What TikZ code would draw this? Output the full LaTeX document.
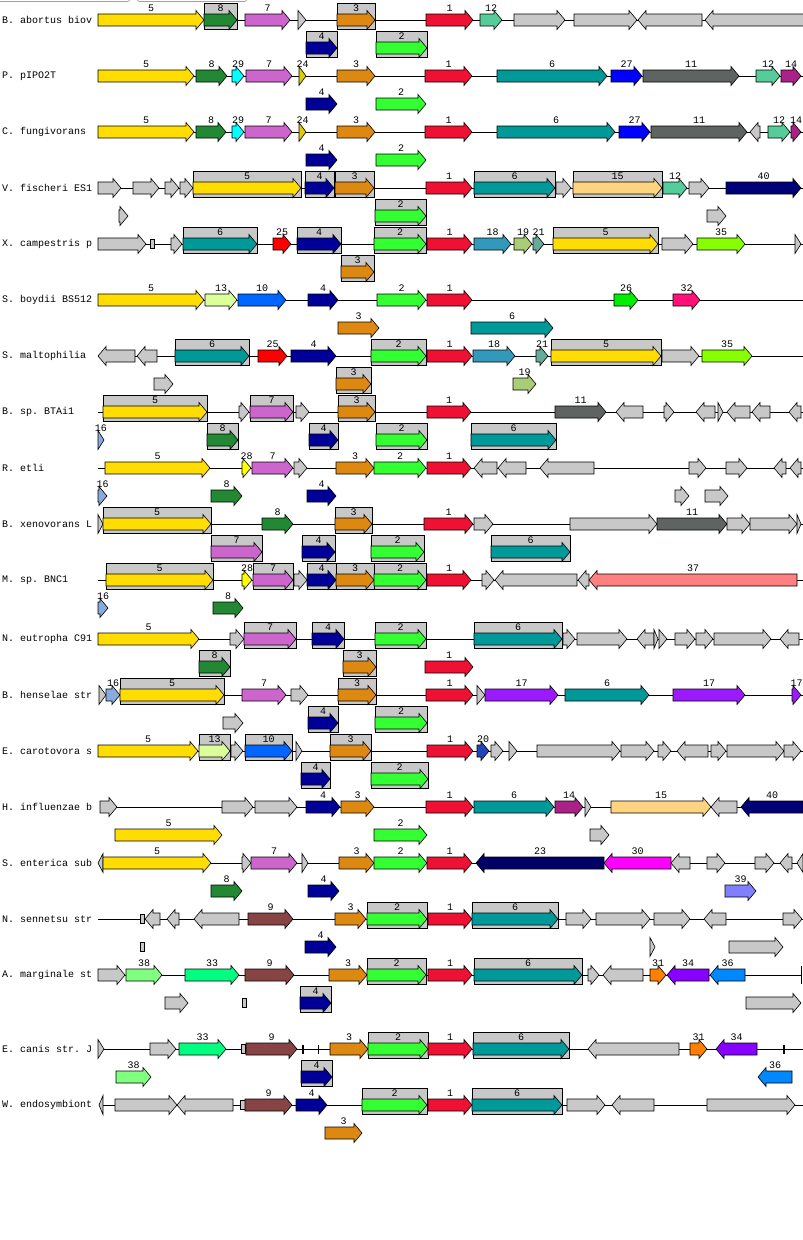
\documentclass[tikz,border=0pt]{standalone}
\usepackage{fontspec}
\setmonofont{Liberation Mono}
\usepackage{tikz}
\usetikzlibrary{calc}

% gene colours
\definecolor{cg}{HTML}{C8C8C8}
\definecolor{c1}{HTML}{EE1133}
\definecolor{c2}{HTML}{33FF33}
\definecolor{c3}{HTML}{DD8811}
\definecolor{c4}{HTML}{000099}
\definecolor{c5}{HTML}{FFDD00}
\definecolor{c6}{HTML}{009999}
\definecolor{c7}{HTML}{CC66CC}
\definecolor{c8}{HTML}{228833}
\definecolor{c9}{HTML}{884444}
\definecolor{c10}{HTML}{0066FF}
\definecolor{c11}{HTML}{5F6361}
\definecolor{c12}{HTML}{55CC99}
\definecolor{c13}{HTML}{DDFF99}
\definecolor{c14}{HTML}{AA2288}
\definecolor{c15}{HTML}{FFD480}
\definecolor{c16}{HTML}{88AADD}
\definecolor{c17}{HTML}{9B1AFF}
\definecolor{c18}{HTML}{3399BB}
\definecolor{c19}{HTML}{AACC77}
\definecolor{c20}{HTML}{2244BB}
\definecolor{c21}{HTML}{66AA99}
\definecolor{c23}{HTML}{000066}
\definecolor{c24}{HTML}{DDCC00}
\definecolor{c25}{HTML}{FF0000}
\definecolor{c26}{HTML}{00EE00}
\definecolor{c27}{HTML}{0000FF}
\definecolor{c28}{HTML}{FFFF00}
\definecolor{c29}{HTML}{00FFFF}
\definecolor{c30}{HTML}{FF00FF}
\definecolor{c31}{HTML}{FF8000}
\definecolor{c32}{HTML}{FF1177}
\definecolor{c33}{HTML}{00FF80}
\definecolor{c34}{HTML}{8800FF}
\definecolor{c35}{HTML}{88FF00}
\definecolor{c36}{HTML}{0088FF}
\definecolor{c37}{HTML}{FF8080}
\definecolor{c38}{HTML}{80FF80}
\definecolor{c39}{HTML}{8080FF}
\definecolor{c40}{HTML}{000077}

\newcounter{gid}
\newcounter{rid}
% organism row: y, name, start, end of backbone
\newcommand{\org}[4]{%
  \stepcounter{rid}%
  \node[orglabel] (org\therid) at (2,#1) {#2};
  \coordinate (bs\therid) at (#3,#1);
  \coordinate (be\therid) at (#4,#1);
  \draw[backbone] (bs\therid) -- (be\therid);}
% gene label
\newcommand{\glab}[4]{%
  \if\relax\detokenize{#4}\relax\else
  \node[glabel] (gl\thegid) at ({(#1+#2)/2},#3-12) {#4};\fi}
% right pointing gene: x1, x2, y, colour, label
\newcommand{\gn}[5]{%
  \stepcounter{gid}%
  \pgfmathsetmacro{\hx}{max(#1,#2-8)}%
  \draw[gene,fill=#4] (#1,#3-6) -- (\hx,#3-6) -- (\hx,#3-9.5) -- (#2,#3)
    -- (\hx,#3+9.5) -- (\hx,#3+6) -- (#1,#3+6) -- cycle;
  \glab{#1}{#2}{#3}{#5}}
% left pointing gene
\newcommand{\gl}[5]{%
  \stepcounter{gid}%
  \pgfmathsetmacro{\hx}{min(#2,#1+8)}%
  \draw[gene,fill=#4] (#2,#3-6) -- (\hx,#3-6) -- (\hx,#3-9.5) -- (#1,#3)
    -- (\hx,#3+9.5) -- (\hx,#3+6) -- (#2,#3+6) -- cycle;
  \glab{#1}{#2}{#3}{#5}}
% boxed gene
\newcommand{\bgn}[5]{%
  \draw[genebox] (#1,#3-17) rectangle (#2,#3+9.5);
  \gn{#1}{#2}{#3}{#4}{#5}}
% tiny gene
\newcommand{\tr}[3]{\draw[gene,fill=cg] (#1,#3-4.5) rectangle (#2,#3+4.5);}
% tick on backbone
\newcommand{\tk}[3]{\draw[line width=#3] (#1,#2-4.5) -- (#1,#2+4.5);}

\begin{document}
\begin{tikzpicture}
  [x=1pt,y=-1pt,
   gene/.style={draw=black,line width=0.6pt},
   genebox/.style={draw=black,fill=cg,line width=0.6pt},
   glabel/.style={font=\ttfamily\fontsize{10}{12}\selectfont,inner sep=0pt},
   orglabel/.style={font=\ttfamily\fontsize{10}{12}\selectfont,inner sep=0pt,anchor=west},
   backbone/.style={line width=0.8pt},
   topline/.style={draw=cg!80!black,line width=0.6pt}]
  \useasboundingbox[fill=white] (0,0) rectangle (803,1240);

  % remains of the tabs at the top
  \draw[topline] (0,1.5) -- (128,1.5) to[out=0,in=90] (131,-1);
  \draw[topline] (136,-1) to[out=90,in=180] (139,1.5) -- (245,1.5) to[out=0,in=90] (248,-1);

  % B. abortus
  \org{20}{B. abortus biov}{98}{803}
  \gn{98}{204}{20}{c5}{5}
  \bgn{204}{237}{20}{c8}{8}
  \gn{245}{290}{20}{c7}{7}
  \gn{298}{306}{20}{cg}{}
  \bgn{337}{375}{20}{c3}{3}
  \gn{426}{473}{20}{c1}{1}
  \gn{480}{502}{20}{c12}{12}
  \gn{514}{565}{20}{cg}{}
  \gn{574}{637}{20}{cg}{}
  \gl{638}{702}{20}{cg}{}
  \gl{705}{804}{20}{cg}{}
  \bgn{306}{337}{48}{c4}{4}
  \bgn{376}{427}{48}{c2}{2}

  % P. pIPO2T
  \org{76}{P. pIPO2T}{98}{803}
  \gn{98}{194}{76}{c5}{5}
  \gn{196}{227}{76}{c8}{8}
  \gn{232}{244}{76}{c29}{29}
  \gn{246}{292}{76}{c7}{7}
  \gn{299}{306}{76}{c24}{24}
  \gn{337}{375}{76}{c3}{3}
  \gn{425}{472}{76}{c1}{1}
  \gn{497}{607}{76}{c6}{6}
  \gn{611}{642}{76}{c27}{27}
  \gn{643}{739}{76}{c11}{11}
  \gn{756}{780}{76}{c12}{12}
  \gn{781}{801}{76}{c14}{14}
  \gn{306}{337}{104}{c4}{4}
  \gn{376}{426}{104}{c2}{2}

  % C. fungivorans
  \org{132}{C. fungivorans}{98}{803}
  \gn{98}{194}{132}{c5}{5}
  \gn{196}{226}{132}{c8}{8}
  \gn{232}{244}{132}{c29}{29}
  \gn{245}{292}{132}{c7}{7}
  \gn{299}{306}{132}{c24}{24}
  \gn{337}{375}{132}{c3}{3}
  \gn{425}{472}{132}{c1}{1}
  \gn{497}{615}{132}{c6}{6}
  \gn{619}{650}{132}{c27}{27}
  \gn{651}{747}{132}{c11}{11}
  \gl{750}{760}{132}{cg}{}
  \gn{768}{790}{132}{c12}{12}
  \gn{791}{801}{132}{c14}{14}
  \gn{306}{337}{160}{c4}{4}
  \gn{376}{426}{160}{c2}{2}

  % V. fischeri
  \org{188}{V. fischeri ES1}{98}{803}
  \gn{98}{121}{188}{cg}{}
  \gn{133}{159}{188}{cg}{}
  \gn{165}{179}{188}{cg}{}
  \gn{180}{193}{188}{cg}{}
  \bgn{193}{301}{188}{c5}{5}
  \bgn{305}{334}{188}{c4}{4}
  \bgn{335}{374}{188}{c3}{3}
  \gn{426}{472}{188}{c1}{1}
  \bgn{474}{555}{188}{c6}{6}
  \gn{556}{571}{188}{cg}{}
  \bgn{573}{662}{188}{c15}{15}
  \gn{663}{687}{188}{c12}{12}
  \gn{689}{709}{188}{cg}{}
  \gn{726}{801}{188}{c40}{40}
  \gn{119}{128}{216}{cg}{}
  \bgn{375}{426}{216}{c2}{2}
  \gn{707}{726}{216}{cg}{}

  % X. campestris
  \org{244}{X. campestris p}{98}{803}
  \gn{98}{146}{244}{cg}{}
  \tr{150}{154}{244}
  \gn{171}{182}{244}{cg}{}
  \bgn{183}{257}{244}{c6}{6}
  \gn{273}{291}{244}{c25}{25}
  \bgn{297}{341}{244}{c4}{4}
  \bgn{374}{426}{244}{c2}{2}
  \gn{427}{472}{244}{c1}{1}
  \gn{474}{511}{244}{c18}{18}
  \gn{514}{532}{244}{c19}{19}
  \gn{533}{544}{244}{c21}{21}
  \bgn{553}{658}{244}{c5}{5}
  \gn{662}{693}{244}{cg}{}
  \gn{697}{745}{244}{c35}{35}
  \gn{795}{801}{244}{cg}{}
  \bgn{341}{374}{272}{c3}{3}

  % S. boydii
  \org{300}{S. boydii BS512}{98}{803}
  \gn{98}{204}{300}{c5}{5}
  \gn{205}{237}{300}{c13}{13}
  \gn{238}{286}{300}{c10}{10}
  \gn{308}{338}{300}{c4}{4}
  \gn{377}{426}{300}{c2}{2}
  \gn{427}{472}{300}{c1}{1}
  \gn{614}{638}{300}{c26}{26}
  \gn{673}{700}{300}{c32}{32}
  \gn{338}{379}{328}{c3}{3}
  \gn{471}{553}{328}{c6}{6}

  % S. maltophilia
  \org{356}{S. maltophilia}{98}{803}
  \gl{98}{135}{356}{cg}{}
  \gl{137}{157}{356}{cg}{}
  \bgn{175}{249}{356}{c6}{6}
  \gn{258}{287}{356}{c25}{25}
  \gn{291}{336}{356}{c4}{4}
  \bgn{371}{426}{356}{c2}{2}
  \gn{427}{472}{356}{c1}{1}
  \gn{473}{515}{356}{c18}{18}
  \gn{536}{548}{356}{c21}{21}
  \bgn{551}{661}{356}{c5}{5}
  \gn{662}{699}{356}{cg}{}
  \gn{702}{752}{356}{c35}{35}
  \gn{154}{173}{384}{cg}{}
  \bgn{336}{371}{384}{c3}{3}
  \gn{513}{536}{384}{c19}{19}

  % B. sp. BTAi1
  \org{412}{B. sp. BTAi1}{98}{803}
  \bgn{103}{207}{412}{c5}{5}
  \gn{239}{249}{412}{cg}{}
  \bgn{250}{293}{412}{c7}{7}
  \gn{296}{309}{412}{cg}{}
  \bgn{338}{375}{412}{c3}{3}
  \gn{427}{471}{412}{c1}{1}
  \gn{555}{606}{412}{c11}{11}
  \gl{616}{643}{412}{cg}{}
  \gn{664}{674}{412}{cg}{}
  \gl{696}{715}{412}{cg}{}
  \gn{718}{723}{412}{cg}{}
  \gl{727}{750}{412}{cg}{}
  \gl{752}{770}{412}{cg}{}
  \gl{789}{801}{412}{cg}{}
  \gn{98}{104}{440}{c16}{16}
  \bgn{207}{238}{440}{c8}{8}
  \bgn{309}{338}{440}{c4}{4}
  \bgn{376}{427}{440}{c2}{2}
  \bgn{471}{556}{440}{c6}{6}

  % R. etli
  \org{468}{R. etli}{98}{803}
  \gn{105}{210}{468}{c5}{5}
  \gn{242}{251}{468}{c28}{28}
  \gn{252}{293}{468}{c7}{7}
  \gn{294}{307}{468}{cg}{}
  \gn{336}{374}{468}{c3}{3}
  \gn{374}{426}{468}{c2}{2}
  \gn{427}{471}{468}{c1}{1}
  \gl{474}{497}{468}{cg}{}
  \gl{498}{526}{468}{cg}{}
  \gl{540}{594}{468}{cg}{}
  \gn{689}{706}{468}{cg}{}
  \gn{726}{747}{468}{cg}{}
  \gl{774}{786}{468}{cg}{}
  \gl{790}{801}{468}{cg}{}
  \gn{98}{107}{496}{c16}{16}
  \gn{211}{242}{496}{c8}{8}
  \gn{307}{336}{496}{c4}{4}
  \gn{675}{689}{496}{cg}{}
  \gn{705}{728}{496}{cg}{}

  % B. xenovorans
  \org{524}{B. xenovorans L}{98}{803}
  \gn{98}{103}{524}{cg}{}
  \bgn{103}{211}{524}{c5}{5}
  \gn{262}{293}{524}{c8}{8}
  \bgn{335}{372}{524}{c3}{3}
  \gn{424}{473}{524}{c1}{1}
  \gn{474}{493}{524}{cg}{}
  \gn{570}{657}{524}{cg}{}
  \gn{657}{727}{524}{c11}{11}
  \gn{727}{750}{524}{cg}{}
  \gn{750}{797}{524}{cg}{}
  \gn{797}{801}{524}{cg}{}
  \bgn{211}{262}{552}{c7}{7}
  \bgn{302}{335}{552}{c4}{4}
  \bgn{371}{424}{552}{c2}{2}
  \bgn{491}{570}{552}{c6}{6}

  % M. sp. BNC1
  \org{580}{M. sp. BNC1}{98}{803}
  \bgn{106}{213}{580}{c5}{5}
  \gn{242}{252}{580}{c28}{28}
  \bgn{253}{293}{580}{c7}{7}
  \gn{294}{307}{580}{cg}{}
  \bgn{307}{336}{580}{c4}{4}
  \bgn{336}{374}{580}{c3}{3}
  \bgn{374}{426}{580}{c2}{2}
  \gn{427}{471}{580}{c1}{1}
  \gn{482}{494}{580}{cg}{}
  \gl{495}{577}{580}{cg}{}
  \gl{578}{589}{580}{cg}{}
  \gl{589}{797}{580}{c37}{37}
  \gn{98}{108}{608}{c16}{16}
  \gn{213}{243}{608}{c8}{8}

  % N. eutropha
  \org{639}{N. eutropha C91}{98}{803}
  \gn{98}{199}{639}{c5}{5}
  \gn{230}{244}{639}{cg}{}
  \bgn{244}{296}{639}{c7}{7}
  \bgn{312}{344}{639}{c4}{4}
  \bgn{375}{426}{639}{c2}{2}
  \bgn{474}{562}{639}{c6}{6}
  \gn{563}{575}{639}{cg}{}
  \gn{577}{627}{639}{cg}{}
  \gl{637}{654}{639}{cg}{}
  \gn{654}{658}{639}{cg}{}
  \gn{659}{667}{639}{cg}{}
  \gn{675}{695}{639}{cg}{}
  \gn{696}{713}{639}{cg}{}
  \gn{714}{771}{639}{cg}{}
  \gl{780}{799}{639}{cg}{}
  \bgn{199}{230}{667}{c8}{8}
  \bgn{343}{376}{667}{c3}{3}
  \gn{425}{473}{667}{c1}{1}

  % B. henselae
  \org{695}{B. henselae str}{99}{803}
  \gn{99}{106}{695}{cg}{}
  \gn{106}{120}{695}{c16}{16}
  \bgn{120}{224}{695}{c5}{5}
  \gn{242}{286}{695}{c7}{7}
  \gn{291}{308}{695}{cg}{}
  \bgn{338}{376}{695}{c3}{3}
  \gn{426}{473}{695}{c1}{1}
  \gn{477}{485}{695}{cg}{}
  \gn{485}{558}{695}{c17}{17}
  \gn{565}{649}{695}{c6}{6}
  \gn{673}{745}{695}{c17}{17}
  \gn{792}{801}{695}{c17}{17}
  \gn{223}{243}{723}{cg}{}
  \bgn{308}{338}{723}{c4}{4}
  \bgn{375}{427}{723}{c2}{2}

  % E. carotovora
  \org{751}{E. carotovora s}{98}{803}
  \gn{98}{198}{751}{c5}{5}
  \bgn{199}{230}{751}{c13}{13}
  \gn{231}{243}{751}{cg}{}
  \bgn{245}{292}{751}{c10}{10}
  \gn{296}{302}{751}{cg}{}
  \bgn{330}{371}{751}{c3}{3}
  \gn{427}{473}{751}{c1}{1}
  \gn{477}{489}{751}{c20}{20}
  \gn{491}{503}{751}{cg}{}
  \gn{509}{517}{751}{cg}{}
  \gn{537}{620}{751}{cg}{}
  \gn{621}{654}{751}{cg}{}
  \gn{658}{671}{751}{cg}{}
  \gl{677}{708}{751}{cg}{}
  \gn{711}{726}{751}{cg}{}
  \gn{727}{784}{751}{cg}{}
  \gn{784}{801}{751}{cg}{}
  \bgn{301}{330}{779}{c4}{4}
  \bgn{371}{428}{779}{c2}{2}

  % H. influenzae
  \org{807}{H. influenzae b}{100}{803}
  \gn{100}{117}{807}{cg}{}
  \gn{222}{253}{807}{cg}{}
  \gn{255}{297}{807}{cg}{}
  \gn{306}{340}{807}{c4}{4}
  \gn{341}{374}{807}{c3}{3}
  \gn{426}{473}{807}{c1}{1}
  \gn{474}{554}{807}{c6}{6}
  \gn{555}{583}{807}{c14}{14}
  \gn{585}{591}{807}{cg}{}
  \gn{611}{711}{807}{c15}{15}
  \gl{711}{737}{807}{cg}{}
  \gl{741}{803}{807}{c40}{40}
  \gn{115}{222}{835}{c5}{5}
  \gn{374}{427}{835}{c2}{2}
  \gn{590}{609}{835}{cg}{}

  % S. enterica
  \org{863}{S. enterica sub}{98}{803}
  \gl{98}{103}{863}{cg}{}
  \gn{103}{211}{863}{c5}{5}
  \gn{242}{251}{863}{cg}{}
  \gn{251}{297}{863}{c7}{7}
  \gn{302}{308}{863}{cg}{}
  \gn{339}{374}{863}{c3}{3}
  \gn{374}{427}{863}{c2}{2}
  \gn{427}{472}{863}{c1}{1}
  \gl{476}{604}{863}{c23}{23}
  \gl{604}{671}{863}{c30}{30}
  \gl{671}{690}{863}{cg}{}
  \gn{707}{725}{863}{cg}{}
  \gn{755}{774}{863}{cg}{}
  \gl{780}{792}{863}{cg}{}
  \gl{797}{803}{863}{cg}{}
  \gn{211}{242}{891}{c8}{8}
  \gn{308}{339}{891}{c4}{4}
  \gn{725}{756}{891}{c39}{39}

  % N. sennetsu
  \org{919}{N. sennetsu str}{98}{803}
  \tr{140}{144}{919}
  \gl{145}{160}{919}{cg}{}
  \gl{167}{179}{919}{cg}{}
  \gl{194}{239}{919}{cg}{}
  \gn{248}{293}{919}{c9}{9}
  \gn{335}{366}{919}{c3}{3}
  \bgn{367}{427}{919}{c2}{2}
  \gn{428}{472}{919}{c1}{1}
  \bgn{472}{558}{919}{c6}{6}
  \gn{566}{591}{919}{cg}{}
  \gn{596}{650}{919}{cg}{}
  \gn{654}{690}{919}{cg}{}
  \gl{704}{726}{919}{cg}{}
  \gn{783}{802}{919}{cg}{}
  \tr{140}{144}{947}
  \gn{305}{336}{947}{c4}{4}
  \gn{650}{655}{947}{cg}{}
  \gn{729}{783}{947}{cg}{}

  % A. marginale
  \org{975}{A. marginale st}{98}{801}
  \tk{801}{975}{0.8pt}
  \draw[backbone] (801,966) -- (801,984);
  \gn{98}{125}{975}{cg}{}
  \gn{126}{162}{975}{c38}{38}
  \gn{185}{239}{975}{c33}{33}
  \gn{245}{294}{975}{c9}{9}
  \gn{329}{367}{975}{c3}{3}
  \bgn{367}{426}{975}{c2}{2}
  \gn{428}{472}{975}{c1}{1}
  \bgn{474}{582}{975}{c6}{6}
  \gn{588}{599}{975}{cg}{}
  \gl{603}{643}{975}{cg}{}
  \gn{650}{666}{975}{c31}{31}
  \gl{667}{709}{975}{c34}{34}
  \gl{710}{745}{975}{c36}{36}
  \gn{165}{188}{1003}{cg}{}
  \tr{242}{246}{1003}
  \bgn{300}{331}{1003}{c4}{4}
  \gn{746}{801}{1003}{cg}{}

  % E. canis
  \org{1049}{E. canis str. J}{98}{803}
  \gn{98}{104}{1049}{cg}{}
  \gn{150}{176}{1049}{cg}{}
  \gn{179}{226}{1049}{c33}{33}
  \tr{241}{245}{1049}
  \gn{246}{297}{1049}{c9}{9}
  \tk{303}{1049}{1.6pt}
  \tk{318}{1049}{0.8pt}
  \gn{330}{368}{1049}{c3}{3}
  \bgn{368}{428}{1049}{c2}{2}
  \gn{428}{472}{1049}{c1}{1}
  \bgn{473}{569}{1049}{c6}{6}
  \gl{588}{679}{1049}{cg}{}
  \gn{690}{707}{1049}{c31}{31}
  \gl{716}{757}{1049}{c34}{34}
  \tk{784}{1049}{1.4pt}
  \gn{116}{151}{1077}{c38}{38}
  \bgn{301}{332}{1077}{c4}{4}
  \gl{758}{792}{1077}{c36}{36}

  % W. endosymbiont
  \org{1105}{W. endosymbiont}{99}{803}
  \gl{99}{103}{1105}{cg}{}
  \gn{115}{177}{1105}{cg}{}
  \gl{177}{233}{1105}{cg}{}
  \tr{240}{245}{1105}
  \gn{245}{292}{1105}{c9}{9}
  \gn{296}{327}{1105}{c4}{4}
  \bgn{362}{427}{1105}{c2}{2}
  \gn{428}{472}{1105}{c1}{1}
  \bgn{472}{562}{1105}{c6}{6}
  \gn{567}{605}{1105}{cg}{}
  \gl{612}{654}{1105}{cg}{}
  \gn{707}{795}{1105}{cg}{}
  \gn{325}{362}{1133}{c3}{3}
\end{tikzpicture}
\end{document}
